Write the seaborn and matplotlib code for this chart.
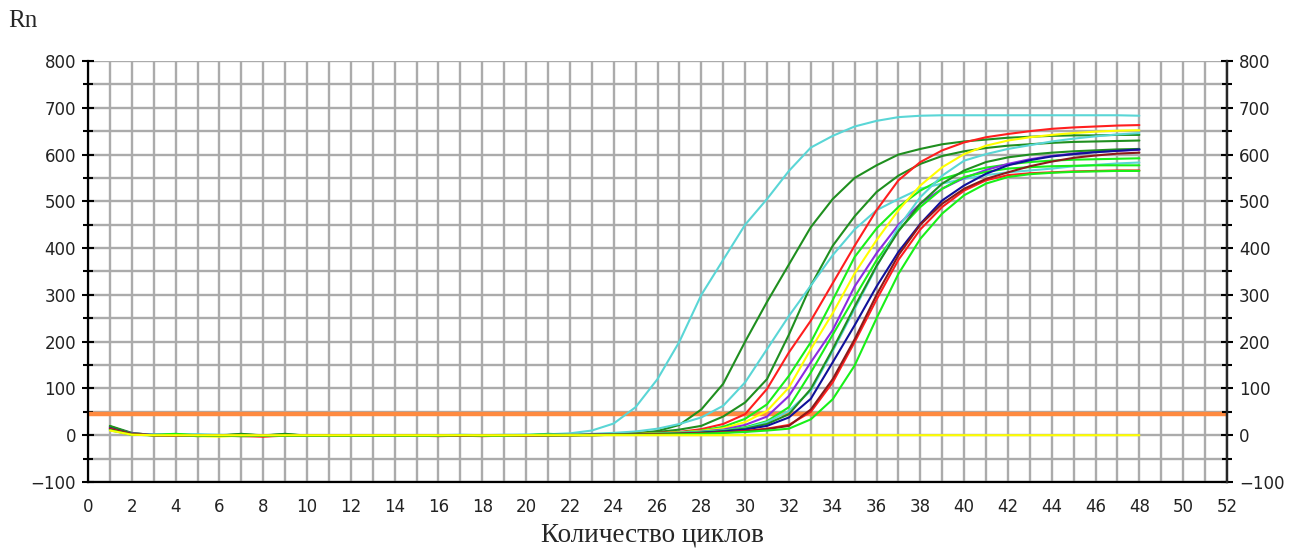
import numpy as np
import pandas as pd
import matplotlib
matplotlib.use("Agg")
import matplotlib.pyplot as plt
import seaborn as sns

cycles = list(range(1, 49))

# amplification curves, one value per cycle (1..48)
cyan_1 = [14, 3, 1, 2, 0, 0, -1, 0, 1, 0, -1, -1, 0, -1, 0, 0, 1, 0, 0, 1, 2, 4, 10, 25,
          60, 120, 200, 300, 375, 450, 505, 565, 615, 640, 660, 672, 680, 683, 684, 684,
          684, 684, 684, 684, 684, 684, 684, 683]
dkgreen_1 = [20, 5, 0, 1, -2, 0, 2, 0, 2, -1, -1, 0, -1, -1, 0, -1, 0, -1, 0, 0, 1, 1, 2, 3,
             4, 9, 22, 55, 110, 200, 285, 365, 445, 505, 550, 577, 600, 612, 622, 628,
             632, 636, 638, 640, 641, 641, 642, 642]
dkgreen_2 = [18, 4, 1, 0, 1, -1, 3, -1, 0, -1, 0, -1, 0, -1, -1, 0, -1, -1, 0, 0, 0, 1, 1, 2,
             4, 7, 12, 20, 40, 70, 120, 215, 320, 405, 468, 520, 555, 580, 597, 607,
             614, 619, 622, 625, 627, 628, 629, 630]
cyan_2 = [12, 2, 1, 1, 2, 1, 0, 0, -1, 0, 0, -1, 0, 0, -1, 0, 0, 0, 1, 1, 1, 2, 3, 5,
          8, 14, 24, 38, 63, 113, 184, 255, 320, 385, 440, 481, 505, 527, 538, 548,
          556, 562, 566, 570, 575, 578, 581, 583]
red_1 = [16, 3, 0, -1, 0, -1, -2, -3, -1, 0, -1, -1, 0, -1, -1, -2, -1, -1, -1, 0, 0, 0, 1, 2,
         3, 5, 7, 13, 24, 45, 99, 177, 245, 325, 405, 481, 545, 584, 609, 626,
         637, 644, 650, 655, 658, 660, 662, 663]
lime_1 = [15, 2, 1, 3, 0, 0, -1, -1, 0, -1, -1, -1, -1, 0, -1, -1, 0, 0, 0, 0, 3, 1, 1, 2,
          3, 4, 6, 10, 18, 35, 66, 127, 199, 289, 381, 442, 488, 523, 548, 562,
          572, 579, 584, 587, 589, 590, 591, 592]
yellow_1 = [13, 2, 0, 0, -2, -3, -1, 0, -1, 0, -1, -1, 0, -1, 0, 0, -1, 0, -1, 0, 0, 1, 1, 2,
            2, 4, 6, 9, 15, 28, 52, 102, 184, 261, 346, 417, 481, 534, 573, 601,
            619, 630, 637, 642, 646, 649, 651, 652]
purple_1 = [17, 4, 1, 0, 0, -1, 0, 0, -1, -1, 0, -1, -1, 0, 0, -1, -1, 0, 0, 0, 1, 1, 1, 2,
            2, 3, 5, 8, 12, 22, 40, 84, 156, 225, 318, 389, 450, 495, 527, 550,
            567, 580, 590, 597, 602, 606, 608, 610]
lime_2 = [12, 1, 0, 1, 0, -1, -2, -1, -1, -1, -1, 0, -1, -1, -1, 0, -1, 0, -1, -1, 0, 0, 1, 1,
          2, 3, 5, 7, 10, 17, 30, 60, 134, 215, 295, 374, 438, 488, 527, 552,
          563, 570, 573, 575, 576, 577, 577, 577]
cyan_3 = [10, 2, 1, 0, 1, 0, 0, -1, 0, 0, -1, 0, 0, -1, 0, 0, 0, -1, 0, 0, 1, 1, 1, 2,
          2, 3, 5, 7, 10, 15, 28, 52, 95, 180, 270, 360, 445, 509, 555, 587,
          601, 612, 620, 628, 634, 639, 643, 646]
dkgreen_3 = [19, 3, 0, 0, -1, 0, 0, -1, 3, -1, -1, -1, -1, -1, -1, -1, -1, -1, -1, -1, -1, 0, 0, 1,
             2, 3, 4, 6, 9, 14, 24, 45, 99, 184, 275, 362, 436, 495, 538, 566,
             584, 594, 600, 604, 607, 609, 611, 612]
navy_1 = [15, 2, 0, 0, 0, -1, 0, 0, -1, -1, -1, 0, -1, -1, 0, -1, -1, 0, -1, -1, 0, 0, 1, 1,
          2, 2, 3, 5, 8, 12, 20, 38, 78, 156, 235, 318, 392, 452, 502, 534,
          559, 577, 588, 596, 601, 605, 608, 611]
red_2 = [14, 2, 0, -1, 0, -1, -1, -2, -1, -1, -1, -1, -1, -1, -1, -1, -1, -2, -1, -1, 0, 0, 0, 1,
         1, 2, 3, 4, 6, 9, 14, 22, 50, 113, 199, 290, 375, 440, 488, 523,
         545, 556, 560, 562, 564, 565, 566, 566]
dkred_1 = [13, 2, 0, 0, -1, 0, -1, -1, -1, -1, 0, -1, -1, -1, 0, -1, -1, -1, 0, 0, 0, 0, 1, 1,
           1, 2, 3, 4, 6, 8, 13, 20, 55, 120, 205, 300, 385, 450, 495, 527,
           548, 562, 575, 585, 593, 598, 602, 604]
lime_3 = [11, 1, 0, 0, -1, -1, -1, -1, -1, -1, -1, -1, -1, -1, -1, -1, 0, -1, -1, 0, 0, 0, 0, 1,
          1, 1, 2, 3, 5, 7, 10, 14, 34, 77, 149, 250, 345, 420, 474, 513,
          538, 552, 558, 561, 563, 564, 565, 565]
yellow_flat = [10, 1, 0, 0, 0, 0, 0, 0, 0, 0, 0, 0, 0, 0, 0, 0, 0, 0, 0, 0, 0, 0, 0, 0,
               0, 0, 0, 0, 0, 0, 0, 0, 0, 0, 0, 0, 0, 0, 0, 0,
               0, 0, 0, 0, 0, 0, 0, 0]

threshold = 45

curves = {
    "cyan_1": (cyan_1, "#5ad6d6"),
    "dkgreen_1": (dkgreen_1, "#1f8f1f"),
    "dkgreen_2": (dkgreen_2, "#1f8f1f"),
    "cyan_2": (cyan_2, "#5ad6d6"),
    "red_1": (red_1, "#ff1e1e"),
    "lime_1": (lime_1, "#18f018"),
    "yellow_1": (yellow_1, "#ffff00"),
    "purple_1": (purple_1, "#8a2be2"),
    "lime_2": (lime_2, "#18f018"),
    "cyan_3": (cyan_3, "#5ad6d6"),
    "dkgreen_3": (dkgreen_3, "#1f8f1f"),
    "navy_1": (navy_1, "#10109a"),
    "red_2": (red_2, "#ff1e1e"),
    "dkred_1": (dkred_1, "#8b1a1a"),
    "lime_3": (lime_3, "#18f018"),
    "yellow_flat": (yellow_flat, "#ffff00"),
}

df = pd.concat([pd.DataFrame({"cycle": cycles, "rn": vals, "curve": name})
                for name, (vals, _) in curves.items()], ignore_index=True)
palette = {name: col for name, (_, col) in curves.items()}

sns.set_style("white")
plt.rcParams['font.family'] = ['DejaVu Sans']

fig = plt.figure(figsize=(13.06, 5.5), dpi=100)
ax = fig.add_axes([88/1306, 1 - 482/550, (1227-88)/1306, (482-61)/550])

ax.set_xlim(0, 52)
ax.set_ylim(-100, 800)
ax.set_xticks(range(0, 53, 2))
ax.set_xticks(range(0, 53), minor=True)
ax.set_yticks(range(-100, 801, 100))
ax.set_yticks(range(-100, 801, 50), minor=True)
ax.grid(which="both", color="#ababab", linewidth=1.7, zorder=0)
ax.set_axisbelow(True)

ax.axhline(threshold, color="#ff8a40", linewidth=3.2, zorder=2)

sns.lineplot(data=df, x="cycle", y="rn", hue="curve", hue_order=list(curves),
             palette=palette, legend=False, linewidth=1.5, estimator=None,
             ax=ax, zorder=3)

ax.set_xlabel("")
ax.set_ylabel("")
for s in ["left", "right", "bottom"]:
    ax.spines[s].set_color("black")
    ax.spines[s].set_linewidth(1.6)
ax.spines["top"].set_visible(False)

ax.tick_params(axis="both", which="major", direction="inout", length=9, width=1.5,
               color="black", labelsize=12, labelcolor="#222222")
ax.tick_params(axis="both", which="minor", direction="inout", length=7, width=1.5,
               color="black")
ax.tick_params(axis="x", which="major", pad=7)
ax.tick_params(axis="y", which="major", pad=4)

ax2 = ax.twinx()
ax2.set_ylim(ax.get_ylim())
ax2.set_yticks(range(-100, 801, 100))
ax2.set_yticks(range(-100, 801, 50), minor=True)
ax2.tick_params(axis="y", which="major", direction="inout", length=9, width=1.5,
                color="black", labelsize=12, labelcolor="#222222", pad=4)
ax2.tick_params(axis="y", which="minor", direction="inout", length=7, width=1.5,
                color="black")
for s in ["top", "left", "bottom"]:
    ax2.spines[s].set_visible(False)
ax2.spines["right"].set_linewidth(1.6)
ax2.grid(False)

fig.text(8/1306, 1 - 21/550, "Rn", fontsize=18, family="Liberation Serif", va="center", ha="left")
fig.text(652/1306, 1 - 535/550, "Количество циклов", fontsize=19.5, family="Liberation Serif",
         va="center", ha="center")

fig.savefig("out.png", dpi=100, facecolor="white")
